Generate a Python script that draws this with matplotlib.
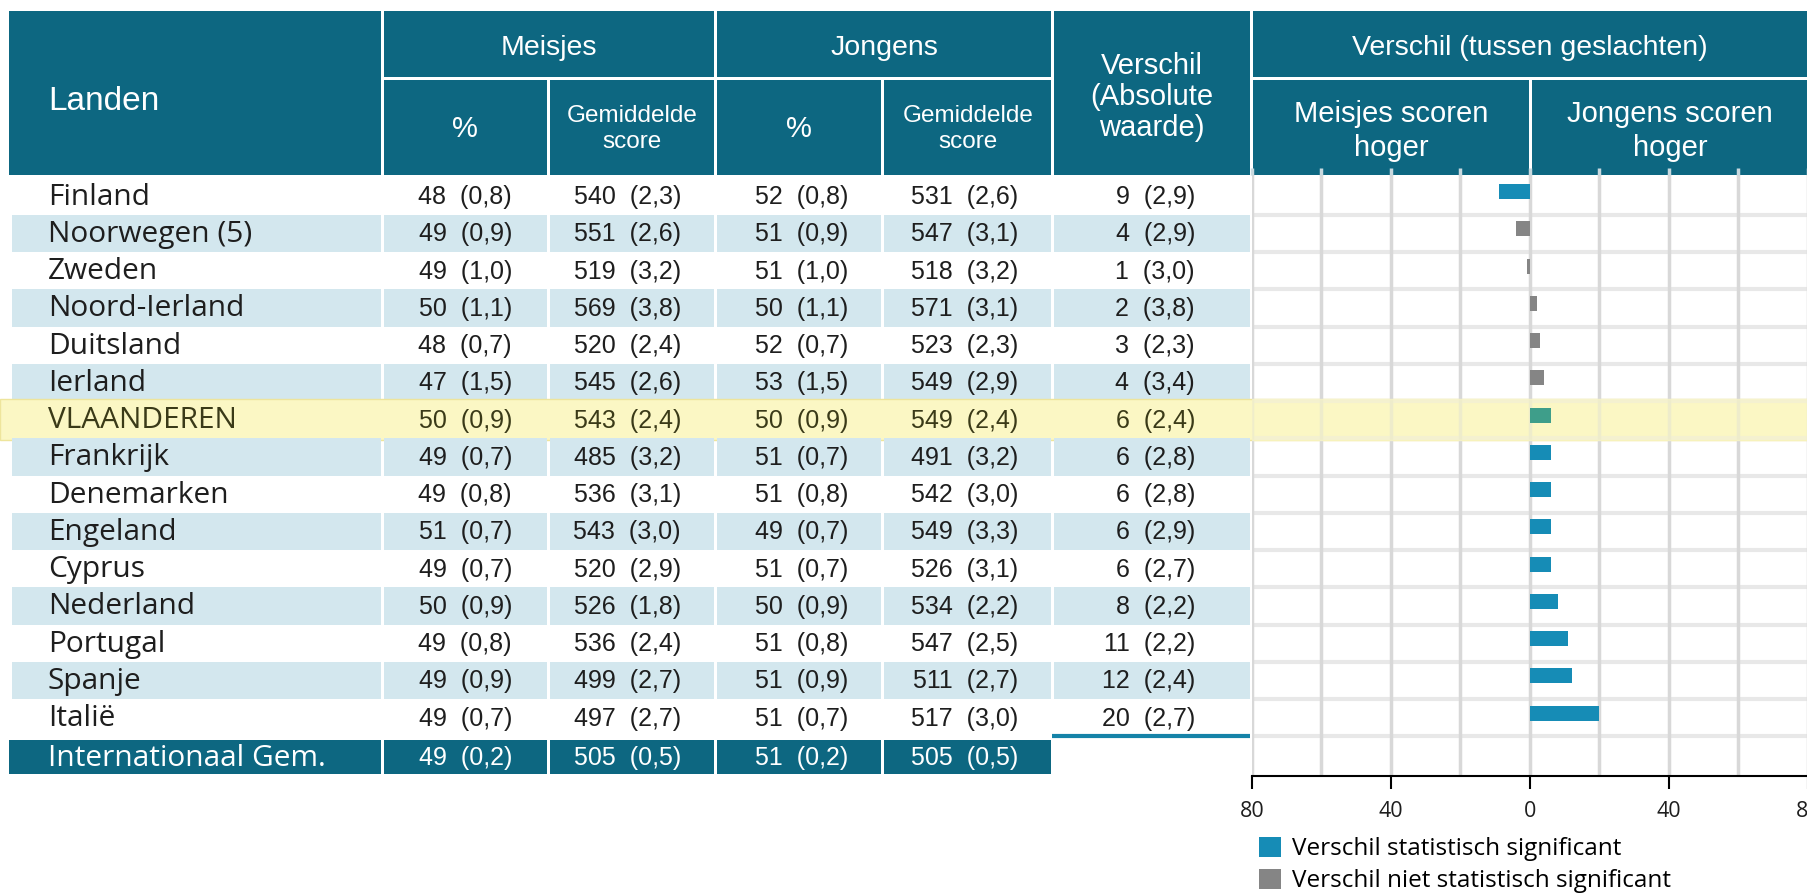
import matplotlib.pyplot as plt
from matplotlib.patches import Rectangle, Patch

W, H = 1808, 894

# gegevens
landen = ['Finland', 'Noorwegen (5)', 'Zweden', 'Noord-Ierland', 'Duitsland', 'Ierland',
          'VLAANDEREN', 'Frankrijk', 'Denemarken', 'Engeland', 'Cyprus', 'Nederland',
          'Portugal', 'Spanje', 'Italië']
meisjes_pct = [48, 49, 49, 50, 48, 47, 50, 49, 49, 51, 49, 50, 49, 49, 49]
meisjes_pct_se = [0.8, 0.9, 1.0, 1.1, 0.7, 1.5, 0.9, 0.7, 0.8, 0.7, 0.7, 0.9, 0.8, 0.9, 0.7]
meisjes_score = [540, 551, 519, 569, 520, 545, 543, 485, 536, 543, 520, 526, 536, 499, 497]
meisjes_score_se = [2.3, 2.6, 3.2, 3.8, 2.4, 2.6, 2.4, 3.2, 3.1, 3.0, 2.9, 1.8, 2.4, 2.7, 2.7]
jongens_pct = [52, 51, 51, 50, 52, 53, 50, 51, 51, 49, 51, 50, 51, 51, 51]
jongens_pct_se = [0.8, 0.9, 1.0, 1.1, 0.7, 1.5, 0.9, 0.7, 0.8, 0.7, 0.7, 0.9, 0.8, 0.9, 0.7]
jongens_score = [531, 547, 518, 571, 523, 549, 549, 491, 542, 549, 526, 534, 547, 511, 517]
jongens_score_se = [2.6, 3.1, 3.2, 3.1, 2.3, 2.9, 2.4, 3.2, 3.0, 3.3, 3.1, 2.2, 2.5, 2.7, 3.0]
verschil_abs = [9, 4, 1, 2, 3, 4, 6, 6, 6, 6, 6, 8, 11, 12, 20]
verschil_se = [2.9, 2.9, 3.0, 3.8, 2.3, 3.4, 2.4, 2.8, 2.8, 2.9, 2.7, 2.2, 2.2, 2.4, 2.7]
# negatief = meisjes scoren hoger
verschil = [-9, -4, -1, 2, 3, 4, 6, 6, 6, 6, 6, 8, 11, 12, 20]
significant = [True, False, False, False, False, False, True, True, True, True, True,
               True, True, True, True]
int_gem = ['Internationaal Gem.', (49, 0.2), (505, 0.5), (51, 0.2), (505, 0.5)]

teal = '#0d6781'
lichtblauw = '#d3e7ee'
geel = '#fbf7c4'
blauw_bar = '#168cb6'
grijs_bar = '#858585'
vl_bar = '#3e9e8a'
tekst = '#1e1e1e'

num_font = 'Liberation Sans'
head_font = 'Liberation Sans'
lab_font = 'Open Sans'


def fmt(v, se):
    return (f"{v}  ({se:.1f})").replace('.', ',')


fig = plt.figure(figsize=(W / 100, H / 100), dpi=100)
ax = fig.add_axes([0, 0, 1, 1])
ax.set_xlim(0, W)
ax.set_ylim(H, 0)
ax.axis('off')


def box(x0, y0, x1, y1, color, **kw):
    ax.add_patch(Rectangle((x0, y0), x1 - x0, y1 - y0, facecolor=color,
                           edgecolor=kw.pop('ec', 'none'), **kw))


# kolommen
edges = [9, 381, 547, 714, 881, 1051, 1250]
gap = 3
row_top = 177.5
rh = 37.25

# kop
box(9, 11, 381, 175, teal)
box(384, 11, 714, 77, teal)
box(384, 80, 547, 175, teal)
box(550, 80, 714, 175, teal)
box(717, 11, 1051, 77, teal)
box(717, 80, 881, 175, teal)
box(884, 80, 1051, 175, teal)
box(1054, 11, 1250, 175, teal)
box(1253, 11, W, 77, teal)
box(1253, 80, 1529, 175, teal)
box(1532, 80, W, 175, teal)

hw = dict(color='white', family=head_font, ha='center', va='center')
ax.text(48, 102, 'Landen', color='white', family=head_font, fontsize=24, va='center')
ax.text(549, 48, 'Meisjes', fontsize=20.5, **hw)
ax.text(884, 48, 'Jongens', fontsize=20.5, **hw)
ax.text(465, 129, '%', fontsize=21, **hw)
ax.text(799, 129, '%', fontsize=21, **hw)
ax.text(632, 129, 'Gemiddelde\nscore', fontsize=17.5, linespacing=1.25, **hw)
ax.text(968, 129, 'Gemiddelde\nscore', fontsize=17.5, linespacing=1.25, **hw)
ax.text(1152, 97, 'Verschil\n(Absolute\nwaarde)', fontsize=21, linespacing=1.12, **hw)
ax.text(1530, 48, 'Verschil (tussen geslachten)', fontsize=20.5, **hw)
ax.text(1391, 131, 'Meisjes scoren\nhoger', fontsize=21, linespacing=1.3, **hw)
ax.text(1670, 131, 'Jongens scoren\nhoger', fontsize=21, linespacing=1.3, **hw)

# rijen
num_right = [512, 681, 848, 1018, 1195]
for i, land in enumerate(landen):
    y0 = row_top + i * rh
    yc = y0 + rh / 2 + 1
    kleur = tekst
    if i == 6:
        box(0, y0 - 2, W, y0 + rh + 2, geel, ec='#eee59c', lw=1)
        kleur = '#3a3a18'
    elif i % 2 == 1:
        for k in range(6):
            x0 = 12 if k == 0 else edges[k] + gap
            box(x0, y0, edges[k + 1], y0 + rh, lichtblauw)
    ax.text(48, yc, land, family=lab_font, fontsize=21.5, color=kleur, va='center')
    waarden = [fmt(meisjes_pct[i], meisjes_pct_se[i]),
               fmt(meisjes_score[i], meisjes_score_se[i]),
               fmt(jongens_pct[i], jongens_pct_se[i]),
               fmt(jongens_score[i], jongens_score_se[i]),
               fmt(verschil_abs[i], verschil_se[i])]
    for k, s in enumerate(waarden):
        ax.text(num_right[k], yc, s, family=num_font, fontsize=18, color=kleur,
                ha='right', va='center')

# internationaal gemiddelde
y0 = 740
for k in range(5):
    x0 = edges[k] + (gap if k else 0)
    box(x0, y0, edges[k + 1], 774, teal)
ax.text(48, 758, int_gem[0], family=lab_font, fontsize=21.5, color='white', va='center')
for k in range(4):
    v, se = int_gem[k + 1]
    ax.text(num_right[k], 758, fmt(v, se), family=num_font, fontsize=18, color='white',
            ha='right', va='center')
ax.plot([1052, 1250], [736, 736], color='#1583a8', lw=3, solid_capstyle='butt')

# staafdiagram
bx = fig.add_axes([1252 / W, (H - 776) / H, (W - 1252) / W, (776 - 175) / H])
bx.patch.set_alpha(0)
rows = list(range(len(landen)))
kleuren = []
for i in rows:
    if i == 6:
        kleuren.append(vl_bar)
    elif significant[i]:
        kleuren.append(blauw_bar)
    else:
        kleuren.append(grijs_bar)
bx.barh([r - 0.12 for r in rows], verschil, height=0.4, color=kleuren, zorder=4)
for r in range(len(landen)):
    bx.axhline(r + 0.5, color='#e8e8e8', lw=3, zorder=0.4)
bx.axhspan(5.45, 6.55, color=geel, alpha=0.65, zorder=2)
bx.set_xlim(-80, 80)
y_top = (175 - 177.5) / rh - 0.5
bx.set_ylim((776 - 177.5) / rh - 0.5, y_top)
bx.set_xticks([-80, -40, 0, 40, 80])
bx.set_xticklabels(['80', '40', '0', '40', '80'], family=lab_font, fontsize=15.5, color=tekst)
bx.set_xticks([-60, -20, 20, 60], minor=True)
bx.set_yticks([])
bx.grid(True, axis='x', which='both', color='#d8d8d8', lw=2.5, zorder=0.5)
bx.set_axisbelow(True)
# korte streepjes van het rooster in de kop
bx.vlines(range(-80, 81, 20), y_top, y_top - 0.2, color='#c9d9df', lw=2.5, clip_on=False, zorder=5)
bx.tick_params(axis='x', which='major', length=9, width=1.5, color='black', direction='out', pad=9)
bx.tick_params(axis='x', which='minor', length=0)
for s in ['top', 'right', 'left']:
    bx.spines[s].set_visible(False)
bx.spines['bottom'].set_linewidth(1.5)

handles = [Patch(facecolor=blauw_bar), Patch(facecolor=grijs_bar)]
fig.legend(handles, ['Verschil statistisch significant', 'Verschil niet statistisch significant'],
           loc='upper left', bbox_to_anchor=(1259 / W, 1 - 837 / H), frameon=False,
           prop=dict(family=lab_font, size=17.5), handlelength=0.9, handleheight=0.9,
           handletextpad=0.45, labelspacing=0.3, borderpad=0, borderaxespad=0)

fig.savefig('out.png', dpi=100)
